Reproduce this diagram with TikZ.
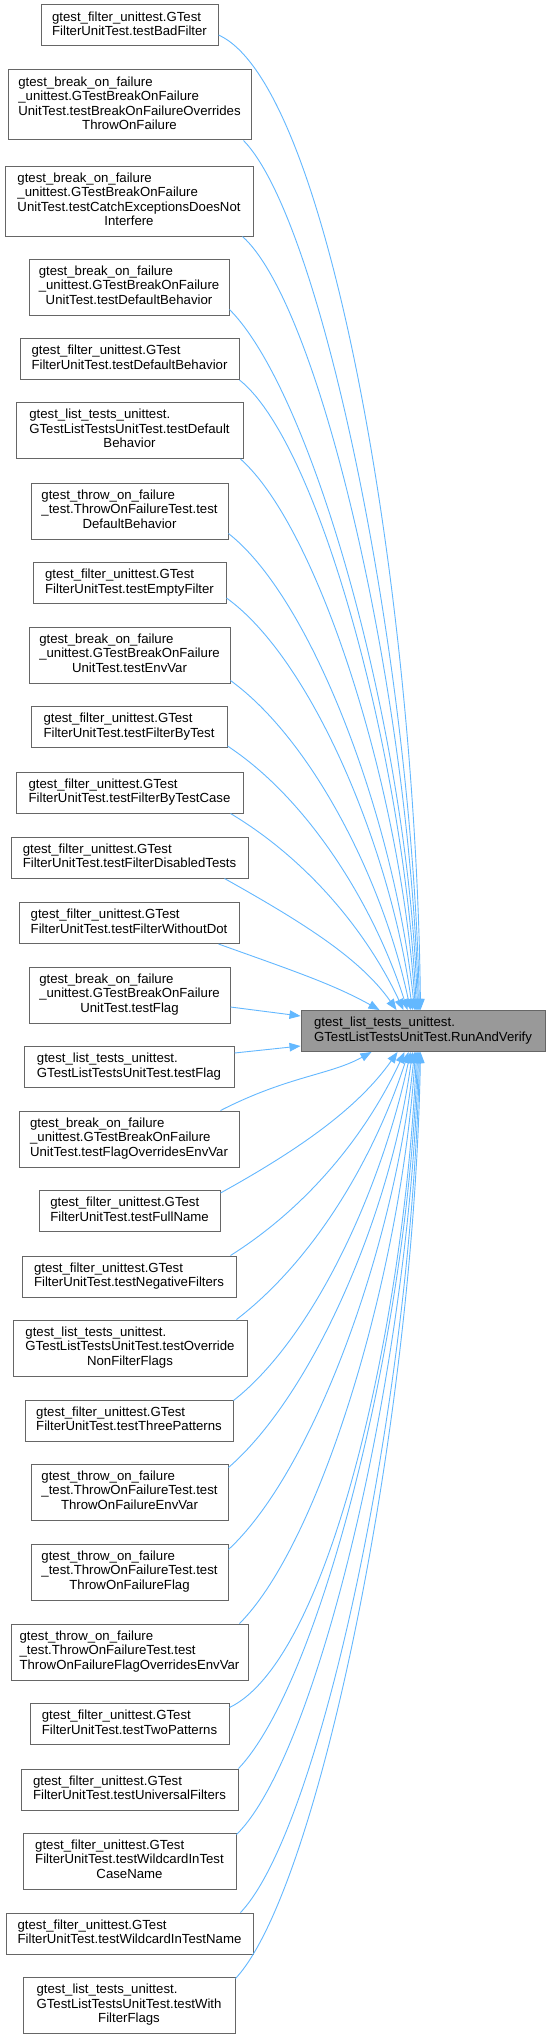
\documentclass[tikz,border=0pt]{standalone}
\usepackage{fontspec}
\setmainfont{Liberation Sans}
\usetikzlibrary{arrows.meta,calc}
\definecolor{edgeblue}{HTML}{63B8FF}
\definecolor{nodeborder}{HTML}{666666}
\definecolor{mainfill}{HTML}{999999}
\newcommand\nlabel[2]{\begin{tabular}{@{}l@{}}#1\\\multicolumn{1}{@{}c@{}}{#2}\end{tabular}}
\begin{document}
\begin{tikzpicture}[x=1pt,y=-1pt,
  box/.style={draw=nodeborder, line width=1pt, fill=white, inner sep=0pt,
    font=\fontsize{13.2}{14.5}\selectfont, anchor=center},
  two/.style={box, minimum height=41pt},
  three/.style={box, minimum height=56pt},
  four/.style={box, minimum height=70pt},
  call/.style={draw=edgeblue, line width=0.9pt, -{Triangle[length=11pt,width=8.5pt]}}]
\useasboundingbox (0,0) rectangle (550,2039);
\fill[white] (0,0) rectangle (550,2039);

% main node
\node[two, fill=mainfill, minimum width=244pt] (m) at (423,1031)
  {\nlabel{gtest\_list\_tests\_unittest.}{GTestListTestsUnitTest.RunAndVerify}};

% callers
\node[two, minimum width=177pt] (n1) at (129.5,25.5)
  {\nlabel{gtest\_filter\_unittest.GTest}{FilterUnitTest.testBadFilter}};
\node[four, minimum width=243pt] (n2) at (129.5,105)
  {\nlabel{gtest\_break\_on\_failure\\\_unittest.GTestBreakOnFailure\\UnitTest.testBreakOnFailureOverrides}{ThrowOnFailure}};
\node[four, minimum width=248pt] (n3) at (129,201)
  {\nlabel{gtest\_break\_on\_failure\\\_unittest.GTestBreakOnFailure\\UnitTest.testCatchExceptionsDoesNot}{Interfere}};
\node[three, minimum width=200pt] (n4) at (129,287)
  {\nlabel{gtest\_break\_on\_failure\\\_unittest.GTestBreakOnFailure}{UnitTest.testDefaultBehavior}};
\node[two, minimum width=219pt] (n5) at (129.5,359)
  {\nlabel{gtest\_filter\_unittest.GTest}{FilterUnitTest.testDefaultBehavior}};
\node[three, minimum width=227pt] (n6) at (129.5,430.5)
  {\nlabel{gtest\_list\_tests\_unittest.\\GTestListTestsUnitTest.testDefault}{Behavior}};
\node[three, minimum width=197pt] (n7) at (129.5,511)
  {\nlabel{gtest\_throw\_on\_failure\\\_test.ThrowOnFailureTest.test}{DefaultBehavior}};
\node[two, minimum width=193pt] (n8) at (129.5,583)
  {\nlabel{gtest\_filter\_unittest.GTest}{FilterUnitTest.testEmptyFilter}};
\node[three, minimum width=201pt] (n9) at (129.5,655)
  {\nlabel{gtest\_break\_on\_failure\\\_unittest.GTestBreakOnFailure}{UnitTest.testEnvVar}};
\node[two, minimum width=196pt] (n10) at (129,727)
  {\nlabel{gtest\_filter\_unittest.GTest}{FilterUnitTest.testFilterByTest}};
\node[two, minimum width=227pt] (n11) at (129.5,792.5)
  {\nlabel{gtest\_filter\_unittest.GTest}{FilterUnitTest.testFilterByTestCase}};
\node[two, minimum width=237pt] (n12) at (129.5,857.5)
  {\nlabel{gtest\_filter\_unittest.GTest}{FilterUnitTest.testFilterDisabledTests}};
\node[two, minimum width=220pt] (n13) at (129,923)
  {\nlabel{gtest\_filter\_unittest.GTest}{FilterUnitTest.testFilterWithoutDot}};
\node[three, minimum width=201pt] (n14) at (129.5,995)
  {\nlabel{gtest\_break\_on\_failure\\\_unittest.GTestBreakOnFailure}{UnitTest.testFlag}};
\node[two, minimum width=210pt] (n15) at (129,1067)
  {\nlabel{gtest\_list\_tests\_unittest.}{GTestListTestsUnitTest.testFlag}};
\node[three, minimum width=220pt] (n16) at (129,1139)
  {\nlabel{gtest\_break\_on\_failure\\\_unittest.GTestBreakOnFailure}{UnitTest.testFlagOverridesEnvVar}};
\node[two, minimum width=181pt] (n17) at (129.5,1211)
  {\nlabel{gtest\_filter\_unittest.GTest}{FilterUnitTest.testFullName}};
\node[two, minimum width=214pt] (n18) at (129,1276.5)
  {\nlabel{gtest\_filter\_unittest.GTest}{FilterUnitTest.testNegativeFilters}};
\node[three, minimum width=234pt] (n19) at (130,1348)
  {\nlabel{gtest\_list\_tests\_unittest.\\GTestListTestsUnitTest.testOverride}{NonFilterFlags}};
\node[two, minimum width=208pt] (n20) at (129,1420.5)
  {\nlabel{gtest\_filter\_unittest.GTest}{FilterUnitTest.testThreePatterns}};
\node[three, minimum width=197pt] (n21) at (129.5,1492)
  {\nlabel{gtest\_throw\_on\_failure\\\_test.ThrowOnFailureTest.test}{ThrowOnFailureEnvVar}};
\node[three, minimum width=197pt] (n22) at (129.5,1572)
  {\nlabel{gtest\_throw\_on\_failure\\\_test.ThrowOnFailureTest.test}{ThrowOnFailureFlag}};
\node[three, minimum width=237pt] (n23) at (129.5,1652)
  {\nlabel{gtest\_throw\_on\_failure\\\_test.ThrowOnFailureTest.test}{ThrowOnFailureFlagOverridesEnvVar}};
\node[two, minimum width=199pt] (n24) at (129.5,1724)
  {\nlabel{gtest\_filter\_unittest.GTest}{FilterUnitTest.testTwoPatterns}};
\node[two, minimum width=217pt] (n25) at (129.5,1789.5)
  {\nlabel{gtest\_filter\_unittest.GTest}{FilterUnitTest.testUniversalFilters}};
\node[three, minimum width=213pt] (n26) at (129.5,1861)
  {\nlabel{gtest\_filter\_unittest.GTest\\FilterUnitTest.testWildcardInTest}{CaseName}};
\node[two, minimum width=247pt] (n27) at (129.5,1933.5)
  {\nlabel{gtest\_filter\_unittest.GTest}{FilterUnitTest.testWildcardInTestName}};
\node[three, minimum width=212pt] (n28) at (129,2005.5)
  {\nlabel{gtest\_list\_tests\_unittest.\\GTestListTestsUnitTest.testWith}{FilterFlags}};

% edges from callers above
\draw[call] ($(n1.east)+(0,9.5)$) .. controls (330,85) and (416,600) .. ($(m.north west)+(120,0)$);
\draw[call] ($(n2.south east)+(-8,0)$) .. controls (323,222) and (412,663) .. ($(m.north west)+(119,0)$);
\draw[call] ($(n3.south east)+(-11,0)$) .. controls (322,308) and (410,701) .. ($(m.north west)+(118,0)$);
\draw[call] ($(n4.south east)+(0,-6)$) .. controls (312,392) and (408,730) .. ($(m.north west)+(117,0)$);
\draw[call] (n5.south east) .. controls (319,443) and (404,758) .. ($(m.north west)+(116,0)$);
\draw[call] ($(n6.south east)+(-3,0)$) .. controls (319,529) and (401,790) .. ($(m.north west)+(115,0)$);
\draw[call] ($(n7.south east)+(0,-6)$) .. controls (312,599) and (395,820) .. ($(m.north west)+(114,0)$);
\draw[call] ($(n8.south east)+(0,-6)$) .. controls (310,658) and (390,845) .. ($(m.north west)+(112,0)$);
\draw[call] ($(n9.south east)+(0,-3)$) .. controls (311,739) and (383,879) .. ($(m.north west)+(110,0)$);
\draw[call] ($(n10.south east)+(0,-2)$) .. controls (308,799) and (374,905) .. ($(m.north west)+(107,0)$);
\draw[call] ($(n11.south east)+(-13,0)$) .. controls (308,860) and (367,932) .. ($(m.north west)+(103,0)$);
\draw[call] ($(n12.south east)+(-24,0)$) .. controls (302,922) and (360,958) .. ($(m.north west)+(96,0)$);
\draw[call] ($(n13.south east)+(-21,0)$) .. controls (291,970) and (333,984) .. ($(m.north west)+(79,0)$);
% nearly level edges
\draw[call] ($(n14.east)+(0,12)$) -- ($(m.west)+(0,-15)$);
\draw[call] ($(n15.east)+(0,-14)$) -- ($(m.west)+(0,15)$);
% edges from callers below
\draw[call] ($(n16.north east)+(-19,0)$) .. controls (288,1076) and (330,1075) .. ($(m.south west)+(71,0)$);
\draw[call] ($(n17.north east)+(0,3)$) .. controls (300,1149) and (358,1108) .. ($(m.south west)+(97,0)$);
\draw[call] ($(n18.north east)+(-6,0)$) .. controls (309,1206) and (367,1133) .. ($(m.south west)+(104,0)$);
\draw[call] ($(n19.north east)+(-11,0)$) .. controls (314,1260) and (374,1159) .. ($(m.south west)+(108,0)$);
\draw[call] ($(n20.north east)+(0,1)$) .. controls (313,1338) and (381,1191) .. ($(m.south west)+(110,0)$);
\draw[call] ($(n21.north east)+(0,4)$) .. controls (311,1396) and (390,1218) .. ($(m.south west)+(112,0)$);
\draw[call] ($(n22.north east)+(0,6)$) .. controls (312,1472) and (394,1251) .. ($(m.south west)+(114,0)$);
\draw[call] ($(n23.north east)+(-9,0)$) .. controls (319,1544) and (400,1280) .. ($(m.south west)+(115,0)$);
\draw[call] ($(n24.north east)+(0,4.5)$) .. controls (332,1658) and (405,1314) .. ($(m.south west)+(116,0)$);
\draw[call] (n25.north east) .. controls (319,1684) and (408,1338) .. ($(m.south west)+(117,0)$);
\draw[call] ($(n26.north east)+(0,2)$) .. controls (318,1755) and (410,1365) .. ($(m.south west)+(118,0)$);
\draw[call] ($(n27.north east)+(-13,0)$) .. controls (321,1828) and (412,1396) .. ($(m.south west)+(119,0)$);
\draw[call] ($(n28.north east)+(0,1.5)$) .. controls (319,1889) and (414,1422) .. ($(m.south west)+(120,0)$);
\end{tikzpicture}
\end{document}
